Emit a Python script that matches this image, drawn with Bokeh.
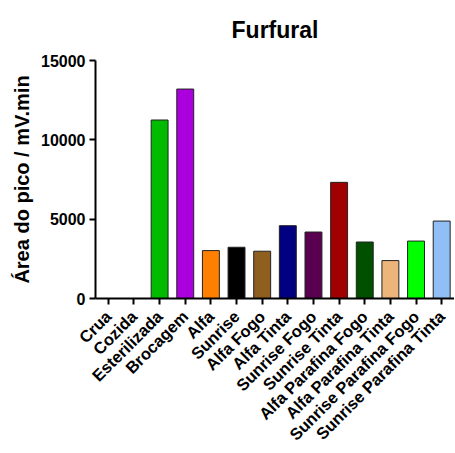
import math
from bokeh.plotting import figure
from bokeh.models import ColumnDataSource, FixedTicker, Range1d, FactorRange
from bokeh.embed import file_html
from bokeh.resources import INLINE

title_text = "Furfural"
categories = ["Crua", "Cozida", "Esterilizada", "Brocagem", "Alfa", "Sunrise",
              "Alfa Fogo", "Alfa Tinta", "Sunrise Fogo", "Sunrise Tinta",
              "Alfa Parafina Fogo", "Alfa Parafina Tinta",
              "Sunrise Parafina Fogo", "Sunrise Parafina Tinta"]
values = [0, 0, 11250, 13200, 3020, 3230, 2980, 4590, 4190, 7320,
          3560, 2390, 3620, 4880]
colors = ["#FFFFFF", "#FFFFFF", "#00BB00", "#AA00DD", "#FF8000", "#000000",
          "#8F5F1F", "#000080", "#5A0050", "#A00000", "#005000", "#EEB57A",
          "#00FF00", "#8FBFF5"]
y_ticks = [0, 5000, 10000, 15000]
y_max = 15000

source = ColumnDataSource(dict(cat=categories, val=values, col=colors))

p = figure(width=454, height=453, x_range=FactorRange(*categories),
           y_range=Range1d(0, y_max), output_backend="svg",
           toolbar_location=None, title=title_text,
           min_border_left=95, min_border_right=0,
           min_border_top=60, min_border_bottom=153)

p.vbar(x="cat", top="val", width=0.66, source=source, fill_color="col",
       line_color="#222222", line_width=1)

p.title.align = "center"
p.title.vertical_align = "top"
p.title.text_font = "Liberation Sans"
p.title.text_font_size = "23px"
p.title.text_font_style = "bold"
p.title.text_color = "#000000"
p.title.standoff = 31

p.outline_line_color = None
p.xgrid.grid_line_color = None
p.ygrid.grid_line_color = None

p.yaxis.ticker = FixedTicker(ticks=y_ticks)
p.yaxis.minor_tick_line_color = None
p.yaxis.axis_label = "Área do pico / mV.min"
p.yaxis.axis_label_text_font = "Liberation Sans"
p.yaxis.axis_label_text_font_size = "20px"
p.yaxis.axis_label_text_font_style = "bold"
p.yaxis.axis_label_text_color = "#000000"
p.yaxis.axis_label_standoff = 5

for ax in (p.xaxis, p.yaxis):
    ax.axis_line_width = 2
    ax.axis_line_color = "#000000"
    ax.major_tick_line_width = 2
    ax.major_tick_line_color = "#000000"
    ax.major_tick_out = 6
    ax.major_tick_in = 0
    ax.major_label_text_font = "Liberation Sans"
    ax.major_label_text_font_size = "16px"
    ax.major_label_text_font_style = "bold"
    ax.major_label_text_color = "#000000"

p.xaxis.major_label_text_font_size = "16.5px"
p.xaxis.major_label_orientation = math.pi / 4
p.xaxis.major_label_standoff = 9
p.yaxis.major_label_standoff = 4

open("out.html", "w").write(file_html(p, INLINE))
